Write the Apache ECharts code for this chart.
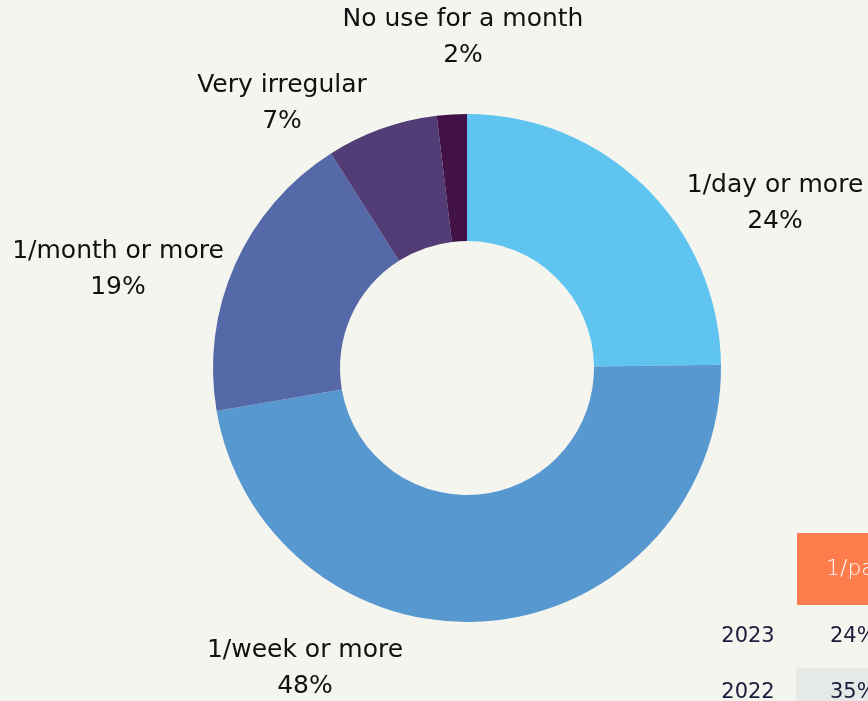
<!DOCTYPE html>
<html>
<head>
<meta charset="utf-8">
<script src="https://cdn.jsdelivr.net/npm/echarts@6/dist/echarts.min.js"></script>
<style>
  html, body { margin: 0; padding: 0; background: #f4f5ef; }
  #chart { width: 868px; height: 701px; }
</style>
</head>
<body>
<div id="chart"></div>
<script>
var categories = ['1/day or more', '1/week or more', '1/month or more', 'Very irregular', 'No use for a month'];
var shares = [24.8, 47.5, 18.7, 7.1, 1.9];
var shareLabels = ['24%', '48%', '19%', '7%', '2%'];
var sliceColors = ['#5fc5f0', '#5898d0', '#5569a9', '#523c76', '#421246'];
// label centres (px)
var labelPos = [[775, 203], [305, 668], [118, 269], [282, 103], [463, 37]];

var tableYears = ['2023', '2022'];
var tableValues = ['24%', '35%'];
var tableHeader = '1/past month';

(function () {
  'use strict';
  var chart = echarts.init(document.getElementById('chart'), null, { renderer: 'canvas' });
  var font = '"DejaVu Sans", sans-serif';
  var ink = '#1e1a3a';

  var graphics = [
    { type: 'rect', shape: { x: 797, y: 533, width: 100, height: 72 }, style: { fill: '#ff7c4c' } },
    { type: 'text', x: 826, y: 569, style: { text: tableHeader, fill: '#fff', font: '300 22px ' + font, verticalAlign: 'middle' } },
    { type: 'rect', shape: { x: 796, y: 668, width: 100, height: 40 }, style: { fill: '#e5e9e8' } }
  ];
  tableYears.forEach(function (yr, i) {
    var y = 637 + i * 56;
    graphics.push({ type: 'text', x: 748, y: y, style: { text: yr, fill: ink, font: '21px ' + font, align: 'center', verticalAlign: 'middle' } });
    graphics.push({ type: 'text', x: 830, y: y, style: { text: tableValues[i], fill: ink, font: '21px ' + font, verticalAlign: 'middle' } });
  });

  chart.setOption({
    backgroundColor: '#f4f5ef',
    animation: false,
    color: sliceColors,
    graphic: graphics,
    series: [{
      type: 'pie',
      center: [467, 368],
      radius: [127, 254],
      startAngle: 90,
      clockwise: true,
      avoidLabelOverlap: false,
      itemStyle: { borderWidth: 0 },
      label: {
        show: true,
        position: 'outside',
        formatter: function (p) { return p.name + '\n' + shareLabels[p.dataIndex]; },
        color: '#111',
        fontFamily: font,
        fontSize: 25,
        lineHeight: 36,
        align: 'center'
      },
      labelLine: { show: false },
      labelLayout: function (p) {
        var pos = labelPos[p.dataIndex];
        return { x: pos[0], y: pos[1], align: 'center', verticalAlign: 'middle' };
      },
      data: categories.map(function (c, i) { return { name: c, value: shares[i] }; })
    }]
  });
  window.addEventListener('resize', function () { chart.resize(); });
})();
</script>
</body>
</html>
